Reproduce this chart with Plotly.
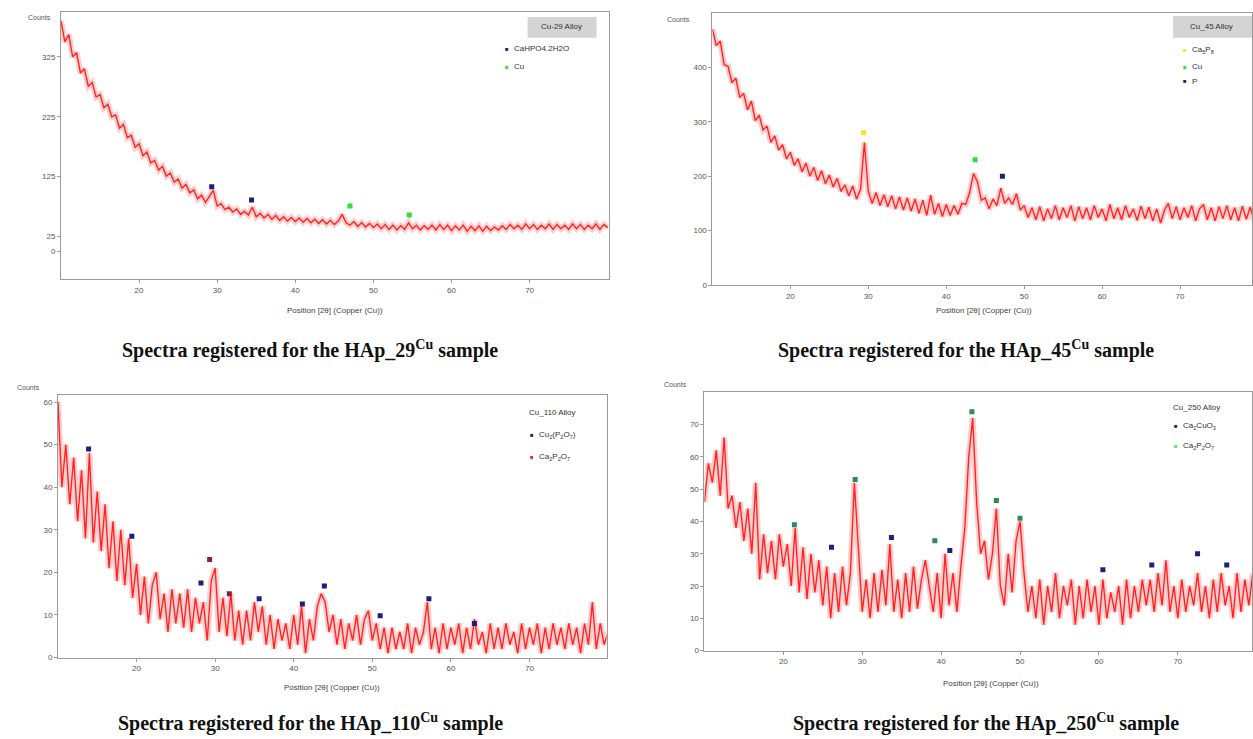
import plotly.graph_objects as go

# ---------------- data ----------------
two_theta = [10 + 0.5 * i for i in range(141)]

counts_29 = [385, 350, 362, 325, 332, 298, 305, 276, 282, 258, 262, 240, 246, 225, 228, 206,
             212, 190, 194, 174, 180, 160, 166, 148, 152, 136, 142, 126, 131, 116, 121, 106,
             112, 98, 103, 88, 94, 82, 92, 102, 76, 80, 70, 74, 66, 71, 62, 67,
             61, 74, 58, 64, 56, 62, 54, 60, 52, 58, 51, 57, 50, 56, 49, 55,
             48, 54, 47, 53, 46, 52, 45, 51, 62, 48, 44, 50, 42, 48, 41, 47,
             40, 46, 38, 45, 37, 44, 36, 43, 37, 48, 38, 44, 36, 43, 37, 44,
             36, 45, 37, 44, 35, 43, 36, 44, 34, 42, 35, 43, 34, 42, 35, 41,
             36, 43, 37, 45, 38, 44, 37, 46, 38, 45, 37, 44, 38, 46, 37, 45,
             38, 44, 37, 46, 38, 45, 37, 44, 38, 46, 37, 45, 40]

counts_45 = [470, 440, 448, 405, 402, 372, 380, 345, 352, 322, 338, 302, 312, 285, 292, 262,
             274, 248, 258, 232, 244, 220, 232, 208, 224, 200, 216, 192, 210, 186, 202, 180,
             196, 172, 184, 164, 182, 158, 176, 262, 172, 150, 170, 146, 166, 144, 164, 140,
             162, 138, 160, 136, 158, 132, 156, 128, 165, 130, 150, 126, 148, 128, 146, 130,
             150, 148, 170, 205, 190, 156, 160, 140, 158, 146, 178, 150, 160, 148, 168, 138,
             146, 124, 142, 120, 144, 118, 140, 122, 146, 120, 142, 124, 146, 118, 144, 122,
             142, 120, 146, 124, 140, 118, 148, 122, 142, 120, 146, 124, 140, 119, 145, 122,
             143, 118, 140, 114, 138, 150, 122, 144, 120, 142, 124, 146, 118, 140, 148, 120,
             142, 118, 144, 122, 146, 120, 142, 118, 145, 121, 143, 119, 138]

counts_110 = [60, 40, 50, 36, 47, 32, 44, 28, 48, 27, 39, 25, 36, 21, 32, 18,
              30, 17, 28, 14, 22, 10, 19, 8, 17, 20, 9, 15, 6, 16, 8, 15,
              7, 16, 6, 14, 8, 13, 4, 18, 21, 6, 14, 5, 15, 4, 11, 3,
              11, 4, 13, 6, 12, 3, 10, 2, 9, 4, 8, 2, 10, 3, 12, 1,
              9, 4, 12, 15, 13, 6, 10, 3, 9, 2, 8, 4, 10, 3, 9, 11,
              4, 8, 2, 7, 1, 7, 2, 6, 2, 8, 1, 7, 3, 6, 13, 2,
              7, 1, 8, 2, 7, 3, 8, 1, 7, 2, 9, 3, 6, 1, 8, 2,
              7, 2, 8, 3, 6, 1, 8, 2, 7, 3, 8, 1, 7, 2, 8, 3,
              7, 2, 8, 3, 7, 1, 8, 3, 13, 2, 8, 3, 6]

counts_250 = [46, 58, 52, 62, 48, 66, 44, 48, 38, 46, 34, 44, 30, 52, 22, 36,
              24, 34, 22, 36, 26, 33, 20, 38, 18, 32, 16, 30, 18, 28, 14, 26,
              10, 24, 12, 26, 14, 24, 52, 30, 12, 22, 10, 24, 12, 25, 14, 33,
              12, 22, 10, 24, 12, 26, 13, 22, 28, 20, 12, 24, 10, 30, 14, 24,
              12, 26, 38, 60, 72, 46, 30, 34, 22, 30, 44, 20, 14, 30, 18, 34,
              40, 24, 12, 20, 10, 22, 8, 20, 12, 24, 10, 20, 14, 22, 8, 20,
              10, 22, 12, 20, 8, 22, 10, 18, 12, 20, 8, 22, 10, 20, 12, 22,
              14, 22, 12, 24, 14, 28, 12, 20, 10, 22, 12, 20, 14, 24, 12, 20,
              10, 22, 12, 24, 14, 20, 10, 24, 12, 22, 14, 24, 16]

# reference-peak markers (2theta, counts)
p29_brushite_x = [29.3, 34.4]
p29_brushite_y = [108, 86]
p29_cu_x = [47.0, 54.6]
p29_cu_y = [76, 61]

p45_ca5p8_x = [29.4]
p45_ca5p8_y = [280]
p45_cu_x = [43.7]
p45_cu_y = [230]
p45_p_x = [47.2]
p45_p_y = [200]

p110_cupo_x = [13.9, 19.4, 28.2, 35.6, 41.1, 43.9, 51.0, 57.2, 63.0]
p110_cupo_y = [49, 28.5, 17.5, 13.8, 12.6, 16.8, 9.8, 13.8, 8]
p110_capo_x = [29.3, 31.8]
p110_capo_y = [23, 15]

p250_cacu_x = [26.1, 33.7, 41.1, 60.5, 66.7, 72.5, 76.2]
p250_cacu_y = [32, 35, 31, 25, 26.5, 30, 26.5]
p250_capo_x = [21.4, 29.1, 39.2, 43.9, 47.0, 50.0]
p250_capo_y = [39, 53, 34, 74, 46.5, 41]

x_ticks = [20, 30, 40, 50, 60, 70]
y_ticks_29 = [0, 25, 125, 225, 325]
y_ticks_45 = [0, 100, 200, 300, 400]
y_ticks_110 = [0, 10, 20, 30, 40, 50, 60]
y_ticks_250 = [0, 10, 20, 30, 40, 50, 60, 70]

captions = ["Spectra registered for the HAp_29<sup>Cu</sup> sample",
            "Spectra registered for the HAp_45<sup>Cu</sup> sample",
            "Spectra registered for the HAp_110<sup>Cu</sup> sample",
            "Spectra registered for the HAp_250<sup>Cu</sup> sample"]

# ---------------- figure ----------------
W, H = 1253, 739

def px_x(p):
    return p / W

def px_y(p):
    return 1 - p / H

NAVY = "#1f1f7a"
GREEN = "#33dd33"
YELLOW = "#e8e830"
RED = "#ff2424"

panels = [
    dict(key="", y=counts_29, xdom=(61, 609), ydom=(12, 281), xr=(10, 80.1), yr=(-46, 400), yt=y_ticks_29),
    dict(key="2", y=counts_45, xdom=(713, 1253), ydom=(13, 287), xr=(10, 79.23), yr=(0, 500), yt=y_ticks_45),
    dict(key="3", y=counts_110, xdom=(58, 607), ydom=(398, 662), xr=(10, 79.8), yr=(0, 61.6), yt=y_ticks_110),
    dict(key="4", y=counts_250, xdom=(705, 1253), ydom=(395, 655), xr=(10, 79.4), yr=(0, 80), yt=y_ticks_250),
]

fig = go.Figure()
layout = dict(width=W, height=H, margin=dict(l=0, r=0, t=0, b=0),
              paper_bgcolor="white", plot_bgcolor="white", showlegend=False,
              font=dict(family="Liberation Sans, Arial, sans-serif"))

for p in panels:
    k = p["key"]
    xa, ya = "x" + k, "y" + k
    # soft halo around the trace
    fig.add_trace(go.Scatter(x=two_theta, y=p["y"], mode="lines", xaxis=xa, yaxis=ya,
                             line=dict(color="rgba(255,80,80,0.28)", width=6), hoverinfo="skip"))
    fig.add_trace(go.Scatter(x=two_theta, y=p["y"], mode="lines", xaxis=xa, yaxis=ya,
                             line=dict(color=RED, width=1.4)))
    layout["xaxis" + k] = dict(domain=[px_x(p["xdom"][0]), px_x(p["xdom"][1])], range=list(p["xr"]),
                               anchor=ya, tickvals=x_ticks, showgrid=False, zeroline=False,
                               showline=True, linecolor="#9a9a9a", linewidth=1, mirror=True,
                               ticks="outside", ticklen=3, tickcolor="#9a9a9a",
                               tickfont=dict(size=8, color="#555"))
    layout["yaxis" + k] = dict(domain=[px_y(p["ydom"][1]), px_y(p["ydom"][0])], range=list(p["yr"]),
                               anchor=xa, tickvals=p["yt"], showgrid=False, zeroline=False,
                               showline=True, linecolor="#9a9a9a", linewidth=1, mirror=True,
                               ticks="outside", ticklen=3, tickcolor="#9a9a9a",
                               tickfont=dict(size=8, color="#555"))

def markers(xs, ys, color, xa, ya, sym="square"):
    fig.add_trace(go.Scatter(x=xs, y=ys, mode="markers", xaxis=xa, yaxis=ya,
                             marker=dict(color=color, size=5, symbol=sym)))

markers(p29_brushite_x, p29_brushite_y, NAVY, "x", "y")
markers(p29_cu_x, p29_cu_y, GREEN, "x", "y")
markers(p45_ca5p8_x, p45_ca5p8_y, YELLOW, "x2", "y2")
markers(p45_cu_x, p45_cu_y, GREEN, "x2", "y2")
markers(p45_p_x, p45_p_y, NAVY, "x2", "y2")
markers(p110_cupo_x, p110_cupo_y, NAVY, "x3", "y3")
markers(p110_capo_x, p110_capo_y, "#8a2040", "x3", "y3")
markers(p250_cacu_x, p250_cacu_y, NAVY, "x4", "y4")
markers(p250_capo_x, p250_capo_y, "#2a8a5a", "x4", "y4")

annotations = []
shapes = []

def txt(x, y, text, size=8, color="#444", xanchor="center"):
    annotations.append(dict(x=px_x(x), y=px_y(y), xref="paper", yref="paper", text=text,
                            showarrow=False, xanchor=xanchor, yanchor="middle",
                            font=dict(size=size, color=color)))

# "Counts" labels
txt(40, 18, "Counts", 7, "#555")
txt(679, 20, "Counts", 7, "#555")
txt(29, 390, "Counts", 7, "#555")
txt(676, 387, "Counts", 7, "#555")

# x-axis titles
txt(335, 313, "Position [2θ] (Copper (Cu))", 8, "#444")
txt(985, 313, "Position [2θ] (Copper (Cu))", 8, "#444")
txt(332, 692, "Position [2θ] (Copper (Cu))", 8, "#444")
txt(992, 688, "Position [2θ] (Copper (Cu))", 8, "#444")

# legend-like boxes
shapes.append(dict(type="rect", xref="paper", yref="paper", x0=px_x(528), x1=px_x(597),
                   y0=px_y(38), y1=px_y(17), fillcolor="#d4d4d4", line=dict(width=0), layer="below"))
shapes.append(dict(type="rect", xref="paper", yref="paper", x0=px_x(1174), x1=px_x(1253),
                   y0=px_y(38), y1=px_y(16), fillcolor="#d4d4d4", line=dict(width=0), layer="below"))
txt(562, 27, "Cu-29 Alloy", 8, "#333")
txt(1212, 27, "Cu_45 Alloy", 8, "#333")
txt(553, 415, "Cu_110 Alloy", 8, "#333")
txt(1197, 410, "Cu_250 Alloy", 8, "#333")

legend_items = [
    (507, 49, NAVY, "CaHPO4.2H2O"),
    (507, 67, GREEN, "Cu"),
    (1186, 50, YELLOW, "Ca<sub>5</sub>P<sub>8</sub>"),
    (1186, 67, GREEN, "Cu"),
    (1186, 82, NAVY, "P"),
    (532, 438, NAVY, "Cu<sub>2</sub>(P<sub>2</sub>O<sub>7</sub>)"),
    (532, 460, "#d03040", "Ca<sub>2</sub>P<sub>2</sub>O<sub>7</sub>"),
    (1177, 429, NAVY, "Ca<sub>2</sub>CuO<sub>3</sub>"),
    (1177, 449, "#66dd66", "Ca<sub>2</sub>P<sub>2</sub>O<sub>7</sub>"),
]
for (lx, ly, c, t) in legend_items:
    txt(lx, ly, "■", 6, c)
    txt(lx + 5, ly, t, 8, "#333", xanchor="left")

# captions
cap_pos = [(310, 352), (967, 352), (311, 727), (987, 727)]
for (cx, cy), c in zip(cap_pos, captions):
    annotations.append(dict(x=px_x(cx), y=px_y(cy), xref="paper", yref="paper",
                            text="<b>" + c + "</b>", showarrow=False, xanchor="center", yanchor="middle",
                            font=dict(family="Liberation Serif, Times New Roman, serif", size=20, color="#111")))

layout["annotations"] = annotations
layout["shapes"] = shapes
fig.update_layout(**layout)
fig.write_html("out.html")
